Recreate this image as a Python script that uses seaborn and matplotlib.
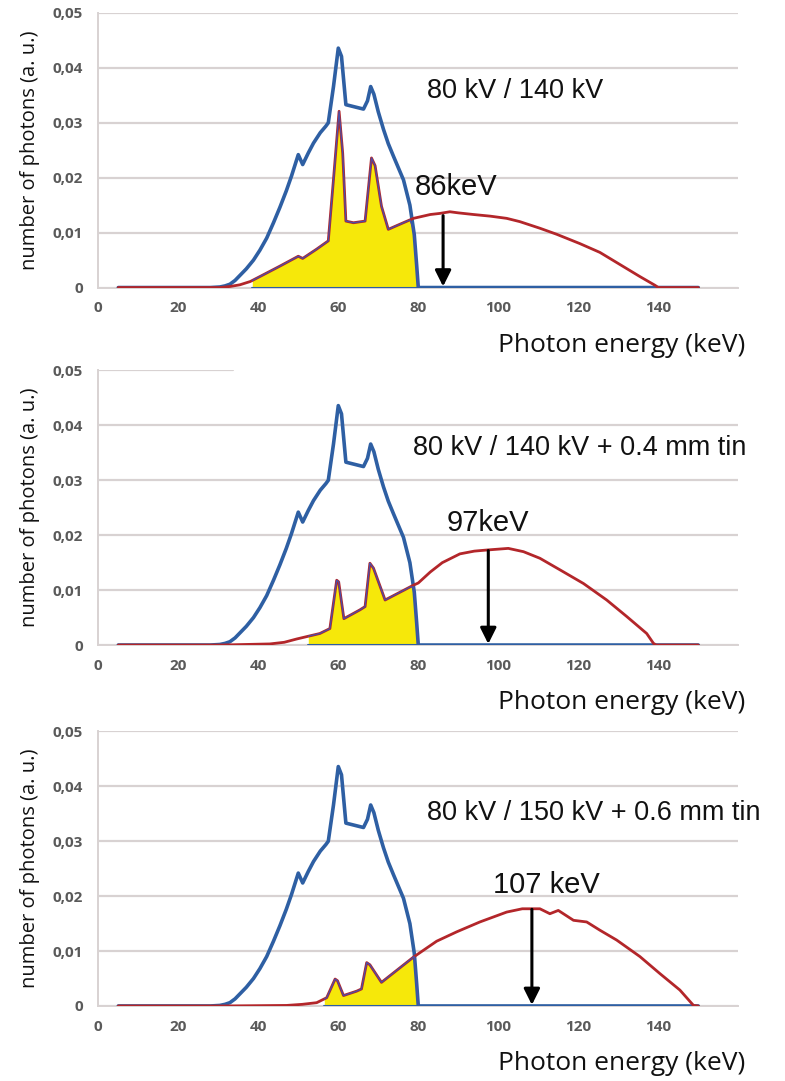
import numpy as np
import pandas as pd
import seaborn as sns
import matplotlib.pyplot as plt

sns.set_style('white')
plt.rcParams['font.family'] = ['Open Sans', 'DejaVu Sans']

# 80 kV spectrum (same in all panels)
kev_80 = [5, 28, 30.4, 31.7, 32.9, 34.2, 35.4, 37.0, 38.8, 40.4, 42.1, 43.8, 45.4, 47.0, 48.3,
          50.0, 51.1, 52.5, 53.8, 55.5, 56.9, 57.5, 58.8, 60.0, 60.8, 61.9, 66.3, 67.3, 68.1,
          68.9, 70.0, 71.3, 72.5, 73.8, 76.3, 77.9, 79.0, 79.6, 80.0, 150]
n_80 = [0, 0, 0.0001, 0.0003, 0.0006, 0.0013, 0.0022, 0.0034, 0.0050, 0.0068, 0.0090, 0.0118,
        0.0146, 0.0176, 0.0203, 0.0242, 0.0224, 0.0245, 0.0263, 0.0282, 0.0294, 0.0300, 0.0366,
        0.0436, 0.0421, 0.0333, 0.0325, 0.0340, 0.0366, 0.0352, 0.0320, 0.0288, 0.0262, 0.0239,
        0.0196, 0.0150, 0.0096, 0.0040, 0, 0]

# high kV spectra
kev_140 = [5, 30.4, 33.0, 35.4, 38.0, 40.4, 45.4, 50.0, 51.1, 54.6, 57.5, 58.8, 60.2, 61.1, 61.9,
           63.8, 66.7, 68.3, 69.2, 70.8, 72.5, 75.0, 78.8, 80.0, 83.0, 85.4, 87.9, 90.0, 93.8,
           98.0, 102.1, 105.4, 110.4, 114.6, 120.4, 125.4, 130.4, 135.4, 139.2, 140.0, 150]
n_140 = [0, 0, 0.0002, 0.0005, 0.0011, 0.0020, 0.0039, 0.0057, 0.0053, 0.0070, 0.0085, 0.0197,
         0.0321, 0.0245, 0.0121, 0.0118, 0.0121, 0.0236, 0.0222, 0.0148, 0.0106, 0.0114, 0.0126,
         0.0128, 0.0133, 0.0135, 0.0138, 0.0136, 0.0133, 0.0130, 0.0126, 0.0120, 0.0108, 0.0097,
         0.0080, 0.0064, 0.0042, 0.0020, 0.0004, 0, 0]

kev_140sn = [5, 30.4, 42.9, 46.5, 49.6, 55.4, 57.9, 59.6, 60.1, 61.4, 65.4, 66.7, 67.9, 68.8, 71.7,
             78.8, 80.0, 83.0, 86.0, 90.4, 94.0, 97.1, 102.5, 106.3, 110.4, 115.4, 121.3,
             127.1, 132.1, 137.1, 138.8, 139.5, 150]
n_140sn = [0, 0, 0.0002, 0.0005, 0.0011, 0.0021, 0.0030, 0.0118, 0.0115, 0.0048, 0.0064, 0.0070,
           0.0149, 0.0140, 0.0082, 0.0109, 0.0113, 0.0133, 0.0150, 0.0166, 0.0171, 0.0173, 0.0176,
           0.0170, 0.0158, 0.0137, 0.0112, 0.0082, 0.0052, 0.0021, 0.0003, 0, 0]

kev_150sn = [5, 30.4, 47.1, 51.0, 54.6, 57.1, 59.2, 59.8, 61.3, 64.6, 65.8, 67.1, 67.9, 70.8, 78.8,
             84.6, 89.6, 95.4, 102.1, 106.0, 110.4, 112.9, 115.0, 118.8, 122.1, 125.4, 129.6,
             135.4, 140.4, 145.4, 148.8, 150]
n_150sn = [0, 0, 0.0001, 0.0003, 0.0006, 0.0015, 0.0049, 0.0046, 0.0019, 0.0027, 0.0031, 0.0079,
           0.0075, 0.0043, 0.0089, 0.0118, 0.0135, 0.0153, 0.0171, 0.0177, 0.0177, 0.0168, 0.0174,
           0.0156, 0.0153, 0.0138, 0.0120, 0.0090, 0.0059, 0.0029, 0.0001, 0]

titles = ['80 kV / 140 kV', '80 kV / 140 kV + 0.4 mm tin', '80 kV / 150 kV + 0.6 mm tin']
mean_labels = ['86keV', '97keV', '107 keV']
mean_kev = [86.2, 97.5, 108.4]
mean_top = [0.0131, 0.0172, 0.0176]
fill_start = [38.5, 52.5, 56.5]
high_kev = [kev_140, kev_140sn, kev_150sn]
high_n = [n_140, n_140sn, n_150sn]

yticks = [0, 0.01, 0.02, 0.03, 0.04, 0.05]
ytick_labels = ['0', '0,01', '0,02', '0,03', '0,04', '0,05']
xticks = [0, 20, 40, 60, 80, 100, 120, 140, 160]
xtick_labels = ['0', '20', '40', '60', '80', '100', '120', '140', '']

blue = '#2e5fa3'
red = '#b3262a'
yellow = '#f6e80a'
grid_c = '#d8d2d2'
tick_c = '#5a5a5a'

fig = plt.figure(figsize=(7.85, 10.81), dpi=100)
bottoms = [0.7340, 0.4033, 0.0694]
title_pos = [(82.1, 0.0358), (78.7, 0.0358), (82.1, 0.0352)]
mean_pos = [(89.4, 0.0183), (97.5, 0.0223), (112.1, 0.0220)]
top_grid_end = [1.0, 0.21, 1.0]   # top grid line of middle panel is partly hidden

for i in range(3):
    ax = fig.add_axes([0.1252, bottoms[i], 0.8153, 0.2540])
    ax.set_xlim(0, 160)
    ax.set_ylim(0, 0.05)
    for yv in yticks:
        xmax = top_grid_end[i] if yv == 0.05 else 1.0
        ax.axhline(yv, xmax=xmax, color=grid_c, lw=1.6, zorder=0)

    df_b = pd.DataFrame({'kev': kev_80, 'n': n_80})
    df_r = pd.DataFrame({'kev': high_kev[i], 'n': high_n[i]})

    # overlap area (yellow)
    grid = np.union1d(np.array(kev_80), np.array(high_kev[i]))
    grid = np.union1d(grid, [fill_start[i]])
    grid = grid[(grid >= fill_start[i]) & (grid <= 80)]
    top = np.minimum(np.interp(grid, kev_80, n_80), np.interp(grid, high_kev[i], high_n[i]))
    ax.fill_between(grid, 0, top, color=yellow, lw=0, zorder=2)

    sns.lineplot(data=df_b, x='kev', y='n', ax=ax, color=blue, lw=2.6, zorder=3,
                 sort=False, estimator=None)
    sns.lineplot(data=df_r, x='kev', y='n', ax=ax, color=red, lw=2.0, zorder=4,
                 sort=False, estimator=None)
    ax.plot(grid, top, color='#4a4fa8', lw=0.9, zorder=5)
    ax.plot([fill_start[i], 80], [0, 0], color=blue, lw=1.5, zorder=5)

    ax.annotate('', xy=(mean_kev[i], 0.0002), xytext=(mean_kev[i], mean_top[i]),
                arrowprops=dict(arrowstyle='-|>', color='black', lw=2.2,
                                mutation_scale=24, shrinkA=0, shrinkB=0), zorder=6)

    ax.text(title_pos[i][0], title_pos[i][1], titles[i], ha='left', va='center',
            fontsize=19.5, family='Liberation Sans', color='#111111')
    ax.text(mean_pos[i][0], mean_pos[i][1], mean_labels[i], ha='center', va='center',
            fontsize=21, family='Liberation Sans', color='#111111')

    ax.set_yticks(yticks)
    ax.set_yticklabels(ytick_labels)
    ax.set_xticks(xticks)
    ax.set_xticklabels(xtick_labels)
    ax.tick_params(axis='y', length=6, width=1.2, color=grid_c, pad=5,
                   labelsize=11, labelcolor=tick_c)
    ax.tick_params(axis='x', length=4, width=1.2, color=grid_c, pad=6,
                   labelsize=11, labelcolor=tick_c)
    for lab in ax.get_xticklabels() + ax.get_yticklabels():
        lab.set_fontweight('bold')

    for s in ['top', 'right']:
        ax.spines[s].set_visible(False)
    ax.spines['left'].set_color(grid_c)
    ax.spines['left'].set_linewidth(1.4)
    ax.spines['bottom'].set_color(grid_c)
    ax.spines['bottom'].set_linewidth(1.4)

    ax.set_xlabel('Photon energy (keV)', fontsize=19, ha='right', va='center',
                  color='#111111')
    ax.xaxis.set_label_coords(1.011, -0.21)
    ax.set_ylabel('number of photons (a. u.)', fontsize=14.5, va='center',
                  color='#111111')
    ax.yaxis.set_label_coords(-0.107, 0.5)

fig.savefig('out.png', dpi=100, facecolor='white')
